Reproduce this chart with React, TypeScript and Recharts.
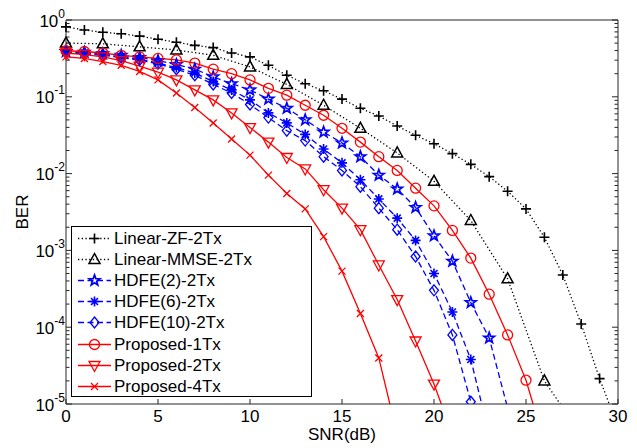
import { LineChart, Line, XAxis, YAxis, Legend, Label } from "recharts";

// SNR (dB) grids
const snrZF = [0, 1, 2, 3, 4, 5, 6, 7, 8, 9, 10, 11, 12, 13, 14, 15, 16, 17, 18, 19, 20, 21, 22, 23, 24, 25, 26, 27, 28, 29, 30];
const snrMMSE = [0, 2, 4, 6, 8, 10, 12, 14, 16, 18, 20, 22, 24, 26, 27];
const snrHDFE2 = [0, 1, 2, 3, 4, 5, 6, 7, 8, 9, 10, 11, 12, 13, 14, 15, 16, 17, 18, 19, 20, 21, 22, 23, 24];
const snrHDFE6 = [0, 1, 2, 3, 4, 5, 6, 7, 8, 9, 10, 11, 12, 13, 14, 15, 16, 17, 18, 19, 20, 21, 22, 23];
const snrHDFE10 = [0, 1, 2, 3, 4, 5, 6, 7, 8, 9, 10, 11, 12, 13, 14, 15, 16, 17, 18, 19, 20, 21, 22];
const snrP1 = [0, 1, 2, 3, 4, 5, 6, 7, 8, 9, 10, 11, 12, 13, 14, 15, 16, 17, 18, 19, 20, 21, 22, 23, 24, 25, 26];
const snrP2 = [0, 1, 2, 3, 4, 5, 6, 7, 8, 9, 10, 11, 12, 13, 14, 15, 16, 17, 18, 19, 20, 21];
const snrP4 = [0, 1, 2, 3, 4, 5, 6, 7, 8, 9, 10, 11, 12, 13, 14, 15, 16, 17, 18];

// BER values
const berZF = [0.813, 0.741, 0.692, 0.661, 0.617, 0.562, 0.513, 0.468, 0.437, 0.372, 0.331, 0.257, 0.191, 0.148, 0.12, 0.0933, 0.0708, 0.0562, 0.0417, 0.0316, 0.0245, 0.0182, 0.0132, 0.00912, 0.00589, 0.00347, 0.00148, 4.79e-4, 1.1e-4, 2.14e-5, 5.0e-6];
const berMMSE = [0.501, 0.49, 0.447, 0.407, 0.347, 0.245, 0.145, 0.0776, 0.0389, 0.0186, 0.00794, 0.00245, 4.27e-4, 2.0e-5, 8.9e-6];
const berHDFE2 = [0.389, 0.38, 0.363, 0.347, 0.324, 0.295, 0.263, 0.229, 0.182, 0.148, 0.123, 0.0933, 0.0708, 0.0501, 0.0347, 0.0251, 0.0166, 0.00955, 0.00631, 0.00363, 0.00155, 7.24e-4, 2.09e-4, 7.24e-5, 8.9e-6];
const berHDFE6 = [0.38, 0.372, 0.355, 0.331, 0.309, 0.275, 0.24, 0.204, 0.158, 0.123, 0.0912, 0.0617, 0.0457, 0.0324, 0.0209, 0.0138, 0.00832, 0.00468, 0.00263, 0.00135, 5.01e-4, 1.58e-4, 3.8e-5, 4.0e-6];
const berHDFE10 = [0.38, 0.363, 0.347, 0.324, 0.302, 0.269, 0.229, 0.191, 0.145, 0.112, 0.0794, 0.0537, 0.0363, 0.0269, 0.0166, 0.011, 0.00676, 0.00355, 0.00186, 8.32e-4, 3.02e-4, 7.94e-5, 1.07e-5];
const berP1 = [0.398, 0.389, 0.372, 0.347, 0.331, 0.316, 0.302, 0.275, 0.229, 0.2, 0.166, 0.129, 0.105, 0.0776, 0.0575, 0.0389, 0.0257, 0.0166, 0.011, 0.00646, 0.0038, 0.00182, 7.94e-4, 2.69e-4, 7.94e-5, 2.04e-5, 3.2e-6];
const berP2 = [0.372, 0.355, 0.331, 0.295, 0.251, 0.209, 0.166, 0.123, 0.0912, 0.0617, 0.0398, 0.0257, 0.0162, 0.0115, 0.00617, 0.00355, 0.00186, 6.46e-4, 2.29e-4, 6.61e-5, 1.82e-5, 4.0e-6];
const berP4 = [0.331, 0.316, 0.288, 0.257, 0.214, 0.166, 0.112, 0.0724, 0.0457, 0.0282, 0.0174, 0.00955, 0.0055, 0.00347, 0.00151, 5.37e-4, 1.51e-4, 3.98e-5, 4.0e-6];

const X_TICKS = [0, 5, 10, 15, 20, 25, 30];
const Y_MAJOR = [1, 1e-1, 1e-2, 1e-3, 1e-4, 1e-5];
const Y_EXP = ["0", "-1", "-2", "-3", "-4", "-5"];
const Y_MINOR = Y_MAJOR.slice(0, 5).flatMap((m) => [2, 3, 4, 5, 6, 7, 8, 9].map((k) => (k * m) / 10));
const Y_TICKS = [...Y_MAJOR, ...Y_MINOR];

const AXIS = "#262626";
const FONT = "'Liberation Sans', Arial, Helvetica, sans-serif";
const RED = "#ff0000";
const BLUE = "#0000ff";
const BLACK = "#000000";
const DOT = "1.3 2.4";
const DASH = "6 3.5";

const toPoints = (snr: number[], ber: number[]) => snr.map((s, i) => ({ snr: s, ber: ber[i] }));

const SERIES = [
  { name: "Linear-ZF-2Tx", data: toPoints(snrZF, berZF), color: BLACK, dash: DOT, marker: "plus" },
  { name: "Linear-MMSE-2Tx", data: toPoints(snrMMSE, berMMSE), color: BLACK, dash: DOT, marker: "triUp" },
  { name: "HDFE(2)-2Tx", data: toPoints(snrHDFE2, berHDFE2), color: BLUE, dash: DASH, marker: "star" },
  { name: "HDFE(6)-2Tx", data: toPoints(snrHDFE6, berHDFE6), color: BLUE, dash: DASH, marker: "asterisk" },
  { name: "HDFE(10)-2Tx", data: toPoints(snrHDFE10, berHDFE10), color: BLUE, dash: DASH, marker: "diamond" },
  { name: "Proposed-1Tx", data: toPoints(snrP1, berP1), color: RED, dash: undefined, marker: "circle" },
  { name: "Proposed-2Tx", data: toPoints(snrP2, berP2), color: RED, dash: undefined, marker: "triDown" },
  { name: "Proposed-4Tx", data: toPoints(snrP4, berP4), color: RED, dash: undefined, marker: "cross" },
];

const Marker = ({ type, cx, cy, color }: any) => {
  const p = { fill: "none", stroke: color, strokeWidth: 1.3 };
  switch (type) {
    case "plus":
      return <path d={`M${cx - 5},${cy}H${cx + 5}M${cx},${cy - 5}V${cy + 5}`} {...p} strokeWidth={1.6} />;
    case "triUp":
      return <polygon points={`${cx},${cy - 6} ${cx - 5.5},${cy + 4} ${cx + 5.5},${cy + 4}`} {...p} strokeWidth={1.5} />;
    case "triDown":
      return <polygon points={`${cx},${cy + 6} ${cx - 5.5},${cy - 4} ${cx + 5.5},${cy - 4}`} {...p} />;
    case "circle":
      return <circle cx={cx} cy={cy} r={5} {...p} />;
    case "diamond":
      return <polygon points={`${cx},${cy - 5.5} ${cx + 4.5},${cy} ${cx},${cy + 5.5} ${cx - 4.5},${cy}`} {...p} />;
    case "cross":
      return <path d={`M${cx - 3.5},${cy - 3.5}L${cx + 3.5},${cy + 3.5}M${cx - 3.5},${cy + 3.5}L${cx + 3.5},${cy - 3.5}`} {...p} />;
    case "asterisk":
      return (
        <path
          d={`M${cx - 5},${cy}H${cx + 5}M${cx},${cy - 5}V${cy + 5}M${cx - 3.5},${cy - 3.5}L${cx + 3.5},${cy + 3.5}M${cx - 3.5},${cy + 3.5}L${cx + 3.5},${cy - 3.5}`}
          {...p}
          strokeWidth={1.6}
        />
      );
    case "star": {
      const pts = [];
      for (let k = 0; k < 10; k++) {
        const a = ((-90 + k * 36) * Math.PI) / 180;
        const r = k % 2 === 0 ? 5.6 : 2.3;
        pts.push(`${cx + r * Math.cos(a)},${cy + r * Math.sin(a)}`);
      }
      return <polygon points={pts.join(" ")} {...p} strokeWidth={1.7} />;
    }
    default:
      return null;
  }
};

const makeDot = (type: string, color: string) => (props: any) => {
  const { cx, cy, payload, index } = props;
  if (payload == null || payload.ber < 1e-5 || cx == null || cy == null) return <g key={`d-${index}`} />;
  return (
    <g key={`d-${index}`}>
      <Marker type={type} cx={cx} cy={cy} color={color} />
    </g>
  );
};

const BottomTick = ({ x, y, payload }: any) => (
  <g>
    <line x1={x} x2={x} y1={y} y2={y - 5} stroke={AXIS} />
    <text x={x} y={y + 18} textAnchor="middle" fontSize={17} fill="#000">
      {payload.value}
    </text>
  </g>
);

const TopTick = ({ x, y }: any) => <line x1={x} x2={x} y1={y} y2={y + 5} stroke={AXIS} />;

const LeftTick = ({ x, y, payload }: any) => {
  const i = Y_MAJOR.indexOf(payload.value);
  const major = i >= 0;
  return (
    <g>
      <line x1={x} x2={x + (major ? 6 : 3.5)} y1={y} y2={y} stroke={AXIS} />
      {major && (
        <text x={x - 1} y={y + 6.5} textAnchor="end" fontSize={17} fill="#000">
          <tspan>10</tspan>
          <tspan dy={-9} fontSize={12}>
            {Y_EXP[i]}
          </tspan>
        </text>
      )}
    </g>
  );
};

const RightTick = ({ x, y, payload }: any) => {
  const major = Y_MAJOR.indexOf(payload.value) >= 0;
  return <line x1={x} x2={x - (major ? 6 : 3.5)} y1={y} y2={y} stroke={AXIS} />;
};

const LegendBox = ({ payload }: any) => {
  const names = new Set((payload ?? []).map((e: any) => e.value));
  return (
    <div
      style={{
        border: `1px solid ${BLACK}`,
        background: "#fff",
        boxSizing: "border-box",
        width: 241,
        height: 171,
        paddingTop: 1,
        fontFamily: FONT,
      }}
    >
      {SERIES.filter((s) => names.has(s.name)).map((s) => (
        <div key={s.name} style={{ display: "flex", alignItems: "center", height: 21.1 }}>
          <svg width={42} height={21} style={{ flex: "none" }}>
            <line x1={6} x2={39} y1={10.5} y2={10.5} stroke={s.color} strokeWidth={1.3} strokeDasharray={s.dash} />
            <Marker type={s.marker} cx={22.5} cy={10.5} color={s.color} />
          </svg>
          <span style={{ fontSize: 17, lineHeight: "21px", color: "#000", whiteSpace: "nowrap" }}>{s.name}</span>
        </div>
      ))}
    </div>
  );
};

const BerLabel = ({ viewBox }: any) => {
  const { x, y, height } = viewBox;
  const cx = x + 14;
  const cy = y + height / 2;
  return (
    <text x={cx} y={cy} transform={`rotate(-90 ${cx} ${cy})`} textAnchor="middle" dominantBaseline="central" fontSize={17} fill="#000">
      BER
    </text>
  );
};

export default function App() {
  return (
    <div style={{ fontFamily: FONT, width: 621, height: 440 }}>
      <LineChart width={621} height={440} margin={{ top: 0, right: 0, bottom: 0, left: 0 }}>
        <XAxis
          xAxisId="x"
          dataKey="snr"
          type="number"
          domain={[0, 30]}
          ticks={X_TICKS}
          interval={0}
          height={44}
          tickSize={0}
          tickMargin={0}
          tickLine={false}
          tick={<BottomTick />}
          axisLine={{ stroke: AXIS }}
        >
          <Label value="SNR(dB)" position="insideBottom" offset={8} fontSize={17} fill="#000" />
        </XAxis>
        <XAxis
          xAxisId="xt"
          orientation="top"
          type="number"
          domain={[0, 30]}
          ticks={X_TICKS}
          interval={0}
          height={12}
          tickSize={0}
          tickMargin={0}
          tickLine={false}
          tick={<TopTick />}
          axisLine={{ stroke: AXIS }}
        />
        <YAxis
          yAxisId="y"
          type="number"
          scale="log"
          domain={[1e-5, 1]}
          allowDataOverflow
          ticks={Y_TICKS}
          interval={0}
          width={58}
          tickSize={0}
          tickMargin={0}
          tickLine={false}
          tick={<LeftTick />}
          axisLine={{ stroke: AXIS }}
        >
          <Label content={<BerLabel />} />
        </YAxis>
        <YAxis
          yAxisId="yr"
          orientation="right"
          type="number"
          scale="log"
          domain={[1e-5, 1]}
          allowDataOverflow
          ticks={Y_TICKS}
          interval={0}
          width={11}
          tickSize={0}
          tickMargin={0}
          tickLine={false}
          tick={<RightTick />}
          axisLine={{ stroke: AXIS }}
        />
        {SERIES.map((s) => (
          <Line
            key={s.name}
            xAxisId="x"
            yAxisId="y"
            data={s.data}
            dataKey="ber"
            name={s.name}
            type="linear"
            stroke={s.color}
            strokeWidth={1.3}
            strokeDasharray={s.dash}
            dot={makeDot(s.marker, s.color)}
            activeDot={false}
            isAnimationActive={false}
          />
        ))}
        <Legend
          layout="vertical"
          align="center"
          verticalAlign="middle"
          content={<LegendBox />}
          wrapperStyle={{ left: 63, top: 218, width: 241, height: 171 }}
        />
      </LineChart>
    </div>
  );
}
